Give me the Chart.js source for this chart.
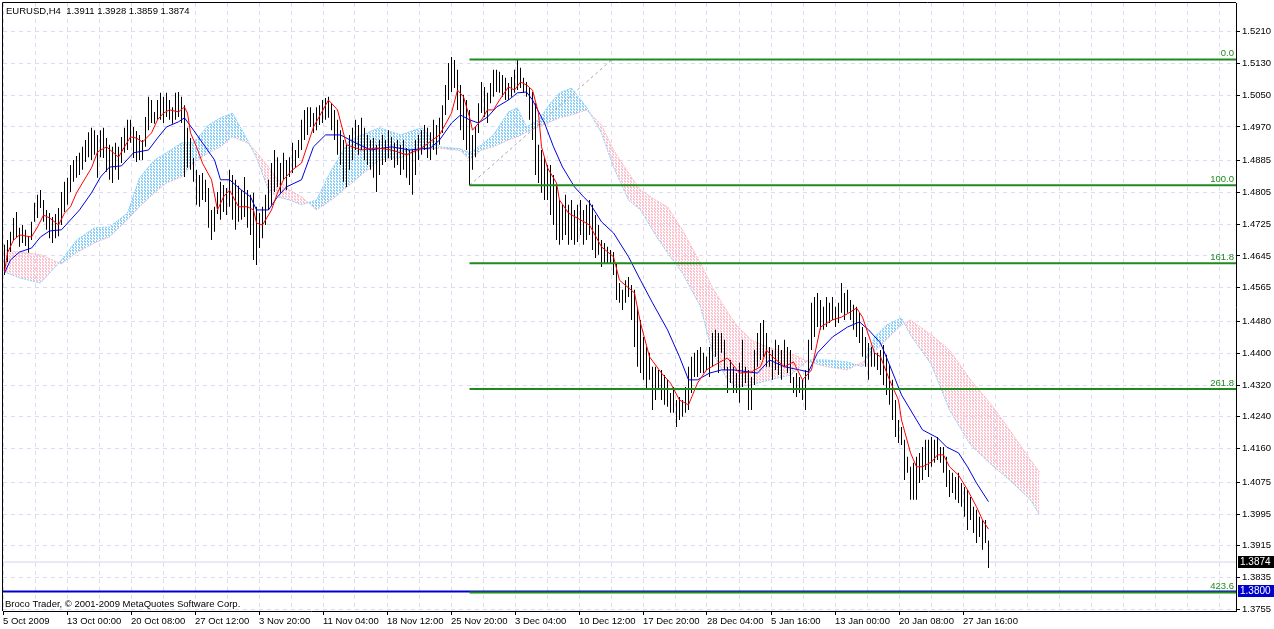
<!DOCTYPE html>
<html>
<head>
<meta charset="utf-8">
<title>EURUSD,H4</title>
<script src="https://cdn.jsdelivr.net/npm/chart.js@4.4.0/dist/chart.umd.min.js"></script>
<style>
  html, body { margin: 0; padding: 0; background: #fff; }
  canvas { display: block; }
</style>
</head>
<body>
<canvas id="chartEurusd" width="1274" height="629"></canvas>
<script>
const symbolName = 'EURUSD,H4';
const lastBar = [1.3911, 1.3928, 1.3859, 1.3874]; // open high low close
const copyright = 'Broco Trader, \u00a9 2001-2009 MetaQuotes Software Corp.';

const xLabels = ['5 Oct 2009','13 Oct 00:00','20 Oct 08:00','27 Oct 12:00','3 Nov 20:00','11 Nov 04:00','18 Nov 12:00','25 Nov 20:00',
  '3 Dec 04:00','10 Dec 12:00','17 Dec 20:00','28 Dec 04:00','5 Jan 16:00','13 Jan 00:00','20 Jan 08:00','27 Jan 16:00'];
const yLabels = ['1.5210','1.5130','1.5050','1.4970','1.4885','1.4805','1.4725','1.4645','1.4565','1.4480',
  '1.4400','1.4320','1.4240','1.4160','1.4075','1.3995','1.3915','1.3835','1.3755'];

// H4 bars, one per index
const highs = [1.4673,1.4685,1.4706,1.4741,1.4756,1.4716,1.4723,1.4711,1.4695,1.4731,
  1.4779,1.4799,1.4811,1.4786,1.4761,1.4753,1.4743,1.4751,1.4766,1.4806,
  1.4832,1.4842,1.4874,1.4887,1.4897,1.4905,1.4920,1.4937,1.4957,1.4968,
  1.4962,1.4950,1.4962,1.4968,1.4942,1.4925,1.4920,1.4930,1.4920,1.4945,
  1.4968,1.4988,1.4988,1.4970,1.4960,1.4950,1.4937,1.4995,1.5046,1.5038,
  1.5008,1.5038,1.5056,1.5046,1.5056,1.5038,1.5020,1.5056,1.5058,1.5046,
  1.5025,1.4968,1.4942,1.4892,1.4862,1.4849,1.4854,1.4837,1.4816,1.4761,
  1.4769,1.4806,1.4832,1.4824,1.4816,1.4862,1.4849,1.4837,1.4822,1.4811,
  1.4844,1.4811,1.4799,1.4804,1.4769,1.4753,1.4769,1.4799,1.4837,1.4879,
  1.4912,1.4894,1.4879,1.4905,1.4887,1.4894,1.4930,1.4912,1.4937,1.4988,
  1.5013,1.5020,1.5020,1.5005,1.5020,1.5025,1.5038,1.5043,1.5046,1.5030,
  1.5013,1.4988,1.4962,1.4937,1.4925,1.4950,1.4968,1.4988,1.4975,1.4993,
  1.4968,1.4950,1.4937,1.4942,1.4925,1.4937,1.4950,1.4937,1.4962,1.4945,
  1.4930,1.4937,1.4925,1.4937,1.4917,1.4912,1.4912,1.4937,1.4950,1.4962,
  1.4975,1.4968,1.4957,1.4988,1.4975,1.4993,1.5025,1.5076,1.5131,1.5146,
  1.5139,1.5114,1.5076,1.5051,1.5038,1.5013,1.4950,1.4970,1.5030,1.5083,
  1.5071,1.5056,1.5081,1.5114,1.5114,1.5109,1.5101,1.5094,1.5081,1.5096,
  1.5114,1.5140,1.5119,1.5094,1.5083,1.5068,1.5058,1.5030,1.4925,1.4912,
  1.4894,1.4874,1.4874,1.4849,1.4824,1.4786,1.4774,1.4799,1.4774,1.4786,
  1.4761,1.4774,1.4786,1.4761,1.4774,1.4786,1.4774,1.4748,1.4723,1.4685,
  1.4678,1.4668,1.4660,1.4655,1.4627,1.4577,1.4560,1.4584,1.4592,1.4572,
  1.4560,1.4517,1.4484,1.4441,1.4416,1.4401,1.4366,1.4366,1.4358,1.4358,
  1.4345,1.4333,1.4300,1.4315,1.4282,1.4290,1.4282,1.4315,1.4366,1.4391,
  1.4401,1.4408,1.4416,1.4401,1.4391,1.4416,1.4451,1.4459,1.4451,1.4451,
  1.4434,1.4366,1.4383,1.4366,1.4350,1.4376,1.4434,1.4366,1.4358,1.4340,
  1.4408,1.4451,1.4476,1.4484,1.4451,1.4416,1.4408,1.4434,1.4421,1.4408,
  1.4434,1.4416,1.4408,1.4340,1.4350,1.4340,1.4333,1.4358,1.4434,1.4527,
  1.4542,1.4552,1.4534,1.4517,1.4542,1.4527,1.4542,1.4517,1.4527,1.4577,
  1.4552,1.4560,1.4534,1.4522,1.4517,1.4502,1.4466,1.4441,1.4426,1.4416,
  1.4401,1.4401,1.4408,1.4421,1.4396,1.4371,1.4333,1.4282,1.4232,1.4214,
  1.4182,1.4139,1.4114,1.4124,1.4139,1.4149,1.4164,1.4182,1.4182,1.4189,
  1.4182,1.4189,1.4164,1.4164,1.4139,1.4106,1.4099,1.4088,1.4099,1.4073,
  1.4063,1.4056,1.4038,1.4013,1.4006,1.3988,1.3980,1.3980,1.3928];
const lows = [1.4597,1.4630,1.4655,1.4685,1.4693,1.4668,1.4678,1.4670,1.4653,1.4685,
  1.4731,1.4741,1.4766,1.4731,1.4711,1.4690,1.4678,1.4690,1.4695,1.4723,
  1.4756,1.4774,1.4806,1.4832,1.4842,1.4849,1.4862,1.4882,1.4894,1.4887,
  1.4900,1.4842,1.4894,1.4892,1.4857,1.4837,1.4829,1.4862,1.4837,1.4879,
  1.4905,1.4912,1.4930,1.4892,1.4882,1.4887,1.4887,1.4920,1.4962,1.4980,
  1.4978,1.4988,1.4988,1.4980,1.4995,1.4988,1.4978,1.4988,1.4995,1.4980,
  1.4844,1.4867,1.4862,1.4832,1.4774,1.4769,1.4786,1.4781,1.4716,1.4685,
  1.4706,1.4751,1.4736,1.4756,1.4748,1.4769,1.4736,1.4711,1.4731,1.4736,
  1.4743,1.4716,1.4698,1.4635,1.4622,1.4665,1.4690,1.4723,1.4761,1.4774,
  1.4806,1.4819,1.4804,1.4837,1.4811,1.4844,1.4854,1.4867,1.4892,1.4912,
  1.4937,1.4950,1.4970,1.4955,1.4962,1.4975,1.4980,1.4988,1.4993,1.4962,
  1.4937,1.4900,1.4874,1.4832,1.4819,1.4862,1.4887,1.4912,1.4900,1.4912,
  1.4887,1.4874,1.4862,1.4842,1.4806,1.4849,1.4874,1.4882,1.4892,1.4887,
  1.4867,1.4874,1.4849,1.4862,1.4842,1.4824,1.4799,1.4849,1.4887,1.4900,
  1.4912,1.4892,1.4887,1.4912,1.4900,1.4925,1.4955,1.5000,1.5038,1.5058,
  1.5068,1.5013,1.4962,1.4937,1.4912,1.4823,1.4862,1.4894,1.4955,1.5005,
  1.4995,1.4980,1.5030,1.5046,1.5058,1.5056,1.5046,1.5038,1.5038,1.5046,
  1.5056,1.5063,1.5068,1.5056,1.5046,1.4988,1.4937,1.4849,1.4829,1.4804,
  1.4786,1.4786,1.4748,1.4723,1.4685,1.4673,1.4685,1.4698,1.4673,1.4685,
  1.4673,1.4680,1.4698,1.4673,1.4685,1.4698,1.4660,1.4640,1.4648,1.4617,
  1.4627,1.4627,1.4625,1.4597,1.4534,1.4527,1.4509,1.4527,1.4542,1.4484,
  1.4416,1.4366,1.4350,1.4333,1.4308,1.4333,1.4257,1.4282,1.4308,1.4282,
  1.4270,1.4265,1.4250,1.4250,1.4214,1.4232,1.4240,1.4250,1.4257,1.4300,
  1.4340,1.4340,1.4350,1.4350,1.4358,1.4340,1.4366,1.4391,1.4350,1.4401,
  1.4358,1.4300,1.4325,1.4300,1.4300,1.4275,1.4315,1.4325,1.4257,1.4257,
  1.4320,1.4366,1.4383,1.4391,1.4366,1.4366,1.4333,1.4358,1.4345,1.4333,
  1.4366,1.4350,1.4325,1.4300,1.4290,1.4300,1.4282,1.4257,1.4333,1.4408,
  1.4441,1.4466,1.4459,1.4459,1.4466,1.4476,1.4484,1.4466,1.4476,1.4502,
  1.4484,1.4502,1.4484,1.4459,1.4441,1.4426,1.4391,1.4366,1.4333,1.4366,
  1.4366,1.4358,1.4345,1.4320,1.4295,1.4270,1.4232,1.4189,1.4174,1.4169,
  1.4081,1.4099,1.4031,1.4031,1.4031,1.4073,1.4081,1.4106,1.4088,1.4114,
  1.4124,1.4131,1.4124,1.4099,1.4063,1.4038,1.4048,1.4031,1.4023,1.4013,
  1.3988,1.3955,1.3980,1.3947,1.3922,1.3937,1.3905,1.3922,1.3859];

// moving averages, [bar, price]
const redMa = [[0,1.4605],[1,1.4653],[3,1.4685],[5,1.4698],[9,1.4693],[11,1.4718],[13,1.4748],[15,1.4741],[18,1.4723],[20,1.4753],
  [22,1.4769],[24,1.4804],[29,1.4867],[31,1.4907],[34,1.4920],[38,1.4894],[40,1.4920],[42,1.4945],[44,1.4942],[46,1.4932],
  [49,1.4955],[51,1.4988],[53,1.5005],[55,1.5013],[58,1.5008],[60,1.5020],[61,1.5005],[62,1.4955],[64,1.4920],[66,1.4879],
  [69,1.4837],[71,1.4761],[73,1.4794],[75,1.4811],[78,1.4769],[81,1.4769],[83,1.4761],[84,1.4728],[86,1.4723],[89,1.4761],
  [91,1.4804],[93,1.4837],[96,1.4862],[99,1.4879],[103,1.4970],[108,1.5038],[111,1.5013],[114,1.4925],[119,1.4912],[124,1.4917],
  [129,1.4912],[134,1.4900],[139,1.4917],[145,1.4950],[149,1.5005],[151,1.5063],[153,1.5046],[155,1.4995],[156,1.4962],[159,1.4988],
  [161,1.5013],[163,1.5013],[165,1.5038],[168,1.5071],[170,1.5063],[172,1.5083],[174,1.5076],[176,1.5063],[178,1.5005],[179,1.4920],
  [181,1.4867],[184,1.4829],[185,1.4786],[188,1.4753],[192,1.4736],[195,1.4723],[199,1.4668],[203,1.4643],[205,1.4584],[210,1.4552],
  [212,1.4476],[215,1.4391],[219,1.4350],[222,1.4325],[225,1.4282],[228,1.4270],[231,1.4325],[234,1.4358],[238,1.4376],[241,1.4388],
  [245,1.4350],[249,1.4353],[252,1.4366],[254,1.4408],[256,1.4391],[260,1.4366],[263,1.4378],[266,1.4333],[269,1.4358],[272,1.4466],
  [276,1.4484],[279,1.4491],[282,1.4504],[284,1.4514],[286,1.4491],[290,1.4401],[292,1.4391],[295,1.4333],[298,1.4282],[299,1.4232],
  [302,1.4149],[304,1.4114],[306,1.4114],[309,1.4126],[311,1.4144],[313,1.4144],[315,1.4114],[318,1.4093],[321,1.4056],[324,1.4013],
  [326,1.3980],[328,1.3957]];
const blueMa = [[0,1.4602],[2,1.4635],[5,1.4655],[9,1.4665],[12,1.4693],[15,1.4708],[19,1.4711],[22,1.4736],[25,1.4761],[29,1.4804],
  [32,1.4844],[35,1.4869],[39,1.4872],[43,1.4905],[48,1.4912],[51,1.4942],[54,1.4970],[58,1.4983],[60,1.4993],[63,1.4962],
  [66,1.4930],[70,1.4887],[72,1.4837],[75,1.4837],[79,1.4811],[82,1.4794],[84,1.4761],[88,1.4761],[91,1.4794],[94,1.4819],
  [99,1.4837],[103,1.4920],[107,1.4950],[112,1.4950],[117,1.4930],[122,1.4912],[129,1.4920],[135,1.4912],[142,1.4917],[145,1.4937],
  [149,1.4980],[152,1.5000],[155,1.4988],[158,1.4980],[161,1.4995],[164,1.5020],[168,1.5038],[171,1.5056],[174,1.5058],[176,1.5038],
  [180,1.4980],[183,1.4920],[186,1.4869],[190,1.4819],[193,1.4794],[195,1.4779],[198,1.4743],[199,1.4731],[203,1.4703],[208,1.4643],
  [212,1.4584],[216,1.4527],[221,1.4459],[225,1.4391],[228,1.4333],[231,1.4333],[235,1.4350],[239,1.4358],[243,1.4358],[248,1.4353],
  [251,1.4350],[255,1.4383],[260,1.4366],[265,1.4358],[268,1.4353],[271,1.4401],[276,1.4441],[281,1.4466],[285,1.4479],[288,1.4459],
  [292,1.4426],[295,1.4371],[299,1.4295],[304,1.4232],[306,1.4207],[311,1.4187],[314,1.4164],[318,1.4149],[321,1.4114],[324,1.4073],
  [328,1.4026]];

// ichimoku cloud edges (shifted forward)
const cloudBars = [0,5,12,19,24,30,35,41,45,50,54,59,63,68,72,76,81,84,88,91,95,99,104,109,115,125,132,139,145,152,
  155,159,163,168,171,174,178,182,185,189,194,199,203,208,212,217,221,226,232,236,241,244,249,255,262,268,274,281,286,290,
  294,299,302,309,315,322,329,335,342,345];
const spanA = [1.4605,1.4590,1.4577,1.4635,1.4685,1.4716,1.4718,1.4753,1.4842,1.4887,1.4905,1.4930,1.4930,1.4975,1.4993,
  1.5005,1.4937,1.4892,1.4811,1.4794,1.4786,1.4774,1.4786,1.4862,1.4937,1.4968,1.4950,1.4968,1.4920,1.4915,
  1.4905,1.4925,1.4950,1.5008,1.5018,1.4970,1.4988,1.5030,1.5056,1.5068,1.5020,1.4955,1.4869,1.4786,1.4761,
  1.4698,1.4653,1.4602,1.4517,1.4401,1.4333,1.4315,1.4320,1.4333,1.4345,1.4383,1.4383,1.4378,1.4366,1.4441,
  1.4471,1.4489,1.4446,1.4371,1.4257,1.4169,1.4119,1.4081,1.4031,1.3993];
const spanB = [1.4660,1.4655,1.4648,1.4625,1.4653,1.4678,1.4693,1.4736,1.4769,1.4804,1.4829,1.4844,1.4879,1.4905,1.4920,
  1.4945,1.4930,1.4907,1.4869,1.4837,1.4811,1.4794,1.4761,1.4786,1.4824,1.4887,1.4892,1.4912,1.4917,1.4910,
  1.4887,1.4912,1.4920,1.4937,1.4945,1.4957,1.4970,1.4983,1.4993,1.5000,1.5013,1.4975,1.4912,1.4854,1.4811,
  1.4786,1.4769,1.4710,1.4627,1.4565,1.4504,1.4471,1.4433,1.4413,1.4401,1.4378,1.4366,1.4358,1.4378,1.4403,
  1.4434,1.4471,1.4484,1.4446,1.4408,1.4333,1.4270,1.4207,1.4131,1.4101];

// fibonacci retracement object
const fibLabels = ['0.0', '100.0', '161.8', '261.8', '423.6'];
const fibPrices = [1.5140, 1.4823, 1.4627, 1.4310, 1.3797];
const fibStartBar = 155;
const fibTrend = [[155, 1.4823], [202.5, 1.5140]];

const hLinePrice = 1.3800;
const bidPrice = 1.3874;

const X_MIN = -0.5, X_MAX = 410.5;
const GRID = 'rgb(218,218,242)';
const FONT = '"Liberation Sans", Arial, sans-serif';
const FIB_GREEN = '#1f8a1f';

// dotted histogram look of the MT4 cloud
function hatch(color) {
  const c = document.createElement('canvas');
  c.width = 3; c.height = 3;
  const g = c.getContext('2d');
  g.fillStyle = color;
  g.fillRect(0, 0, 1, 2);
  g.fillRect(1, 1, 1, 2);
  return g.createPattern(c, 'repeat');
}

const pts = arr => arr.map(p => ({ x: p[0], y: p[1] }));
const hline = (p, x0) => [{ x: x0, y: p }, { x: X_MAX, y: p }];

const overlay = {
  id: 'overlay',
  afterDraw(chart) {
    const { ctx, chartArea: a, scales: { y } } = chart;
    ctx.save();
    ctx.strokeStyle = '#000';
    ctx.lineWidth = 1;
    ctx.beginPath();
    ctx.moveTo(a.left - 0.5, a.bottom);
    ctx.lineTo(a.left - 0.5, a.top - 0.5);
    ctx.lineTo(a.right, a.top - 0.5);
    ctx.stroke();

    ctx.font = '9.5px ' + FONT;
    ctx.fillStyle = '#000';
    ctx.textBaseline = 'middle';
    ctx.fillText(symbolName + '  ' + lastBar.map(v => v.toFixed(4)).join(' '), a.left + 3, a.top + 8);
    ctx.fillText(copyright, a.left + 2, a.bottom - 7);

    ctx.fillStyle = FIB_GREEN;
    ctx.textAlign = 'right';
    ctx.textBaseline = 'bottom';
    fibPrices.forEach((p, k) => ctx.fillText(fibLabels[k], a.right - 2, y.getPixelForValue(p) - 1));

    const box = (p, bg) => {
      const py = Math.round(y.getPixelForValue(p));
      ctx.fillStyle = bg;
      ctx.fillRect(a.right + 2, py - 6, chart.width - a.right - 2, 12);
      ctx.fillStyle = '#fff';
      ctx.textAlign = 'left';
      ctx.textBaseline = 'middle';
      ctx.font = '10px ' + FONT;
      ctx.fillText(p.toFixed(4), a.right + 4, py + 0.5);
    };
    box(bidPrice, '#000');
    box(hLinePrice, '#0000cc');
    ctx.restore();
  }
};

const datasets = [
  { type: 'line', data: fibPrices.map(p => hline(p, fibStartBar)).flatMap((d, k) => k ? [{ x: NaN, y: NaN }, ...d] : d),
    borderColor: FIB_GREEN, borderWidth: 2, pointRadius: 0, spanGaps: false, order: 0 },
  { type: 'line', data: pts(fibTrend), borderColor: '#a8a8a8', borderWidth: 1, borderDash: [3, 3], pointRadius: 0, order: 0 },
  { type: 'line', data: hline(hLinePrice, X_MIN), borderColor: '#0000cc', borderWidth: 2, pointRadius: 0, order: 1 },
  { type: 'line', data: pts(redMa), borderColor: '#ff0000', borderWidth: 1, pointRadius: 0, order: 1 },
  { type: 'line', data: pts(blueMa), borderColor: '#0000dd', borderWidth: 1, pointRadius: 0, order: 1 },
  { type: 'bar', data: highs.map((h, i) => ({ x: i, y: [lows[i], h] })), backgroundColor: '#000',
    grouped: false, barThickness: 1, maxBarThickness: 1, borderWidth: 0, inflateAmount: 0, order: 2 },
  { type: 'line', data: cloudBars.map((b, i) => ({ x: b, y: spanA[i] })), borderColor: '#87cefa', borderWidth: 1,
    borderDash: [2, 1], pointRadius: 0, order: 3,
    fill: { target: '+1', above: hatch('#87cefa'), below: hatch('#ffc0cb') } },
  { type: 'line', data: cloudBars.map((b, i) => ({ x: b, y: spanB[i] })), borderColor: '#ffb6c1', borderWidth: 1,
    borderDash: [2, 1], pointRadius: 0, order: 3 },
  { type: 'line', data: hline(bidPrice, X_MIN), borderColor: 'rgb(210,210,240)', borderWidth: 1, pointRadius: 0, order: 4 }
];

new Chart(document.getElementById('chartEurusd'), {
  type: 'line',
  data: { datasets },
  plugins: [overlay],
  options: {
    responsive: false,
    devicePixelRatio: 1,
    animation: false,
    events: [],
    layout: { padding: { left: 3, top: 3, right: 0, bottom: 0 }, autoPadding: false },
    plugins: { legend: { display: false }, tooltip: { enabled: false } },
    scales: {
      x: {
        type: 'linear', min: X_MIN, max: X_MAX, offset: false, bounds: 'data',
        afterBuildTicks: s => {
          const t = [];
          for (let k = 0; k <= 38; k++) t.push({ value: (32 * k - 1.5) / 3 });
          s.ticks = t;
        },
        afterFit: s => { s.height = 18; s.paddingLeft = 0; s.paddingRight = 0; },
        ticks: {
          autoSkip: false, maxRotation: 0, align: 'start', padding: 1, color: '#000',
          font: { family: FONT, size: 9.5 },
          callback: (v, i) => (i % 2 === 0 && xLabels[i / 2]) ? xLabels[i / 2] : ''
        },
        grid: { color: GRID, tickLength: 4, tickColor: c => (c.index % 2 === 0 && c.index <= 30) ? '#000' : 'rgba(0,0,0,0)', offset: false },
        border: { display: true, color: '#000', width: 1, dash: [4, 4] }
      },
      y: {
        type: 'linear', position: 'right', min: 1.37507, max: 1.52823, bounds: 'data',
        afterBuildTicks: s => { s.ticks = yLabels.map(l => ({ value: parseFloat(l) })); },
        afterFit: s => { s.width = 38; s.paddingTop = 0; s.paddingBottom = 0; },
        ticks: {
          autoSkip: false, padding: 2, color: '#000',
          font: { family: FONT, size: 9.5 },
          callback: (v, i) => yLabels[i]
        },
        grid: { color: GRID, tickLength: 4, tickColor: '#000' },
        border: { display: true, color: '#000', width: 1, dash: [4, 4] }
      }
    }
  }
});
</script>
</body>
</html>
